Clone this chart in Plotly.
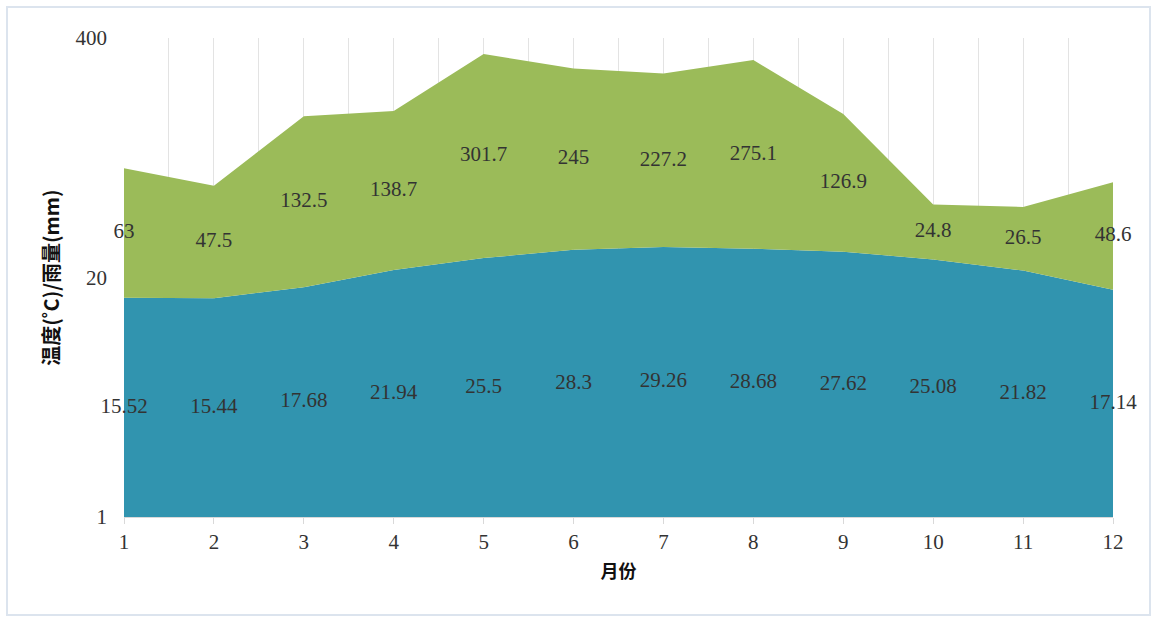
import numpy as np
import plotly.graph_objects as go

months = [1, 2, 3, 4, 5, 6, 7, 8, 9, 10, 11, 12]
temperature = [15.52, 15.44, 17.68, 21.94, 25.5, 28.3, 29.26, 28.68, 27.62, 25.08, 21.82, 17.14]
rainfall = [63, 47.5, 132.5, 138.7, 301.7, 245, 227.2, 275.1, 126.9, 24.8, 26.5, 48.6]
y_ticks = [1, 20, 400]

temp = np.array(temperature)
rain = np.array(rainfall)
total = temp + rain
base = np.ones_like(temp)

TEAL = "#3194AF"
GREEN = "#9BBB59"
SERIF = "Liberation Serif, DejaVu Serif, serif"
CJK = "Noto Sans CJK SC, sans-serif"

fig = go.Figure()
fig.add_trace(go.Scatter(x=months, y=base, mode="lines", line=dict(width=0),
                         showlegend=False, hoverinfo="skip"))
fig.add_trace(go.Scatter(x=months, y=temp, mode="lines", line=dict(width=0, color=TEAL),
                         fill="tonexty", fillcolor=TEAL, name="温度", showlegend=False))
fig.add_trace(go.Scatter(x=months, y=total, mode="lines", line=dict(width=0, color=GREEN),
                         fill="tonexty", fillcolor=GREEN, name="雨量", showlegend=False))

# labels at vertical centre of each band (log scale)
fig.add_trace(go.Scatter(x=months, y=np.sqrt(base * temp), mode="text",
                         text=[f"{v:g}" for v in temperature], cliponaxis=False,
                         textfont=dict(family=SERIF, size=21, color="#333333"),
                         showlegend=False, hoverinfo="skip"))
fig.add_trace(go.Scatter(x=months, y=np.sqrt(temp * total), mode="text",
                         text=[f"{v:g}" for v in rainfall], cliponaxis=False,
                         textfont=dict(family=SERIF, size=21, color="#333333"),
                         showlegend=False, hoverinfo="skip"))

fig.update_layout(
    width=1154, height=619,
    margin=dict(l=124, r=41, t=38, b=102),
    paper_bgcolor="white", plot_bgcolor="white",
    showlegend=False,
    xaxis=dict(
        range=[1, 12], tickvals=months, ticktext=[str(m) for m in months],
        showgrid=True, gridcolor="#E3E3E3", gridwidth=1,
        minor=dict(dtick=0.5, tick0=1, showgrid=True, gridcolor="#E3E3E3", gridwidth=1),
        showline=True, linecolor="#D9D9D9", linewidth=1,
        ticks="outside", ticklen=6, tickcolor="#D9D9D9",
        tickfont=dict(family=SERIF, size=21, color="#333333"),
        title=dict(text="<b>月份</b>", font=dict(family=CJK, size=18, color="#111111"), standoff=12),
        zeroline=False,
    ),
    yaxis=dict(
        type="log", range=[0, np.log10(400)], tickvals=y_ticks,
        ticktext=[str(t) for t in y_ticks],
        showgrid=False, showline=False, zeroline=False,
        ticks="", ticklabelstandoff=16,
        tickfont=dict(family=SERIF, size=21, color="#333333"),
        title=dict(text="<b>温度(˚C)/雨量(mm)</b>", font=dict(family=CJK, size=20, color="#111111"), standoff=10),
    ),
    shapes=[dict(type="rect", xref="paper", yref="paper",
                 x0=-0.1183, x1=1.0374, y0=-0.2046, y1=1.0647,
                 line=dict(color="#DCE4EE", width=2), fillcolor="rgba(0,0,0,0)", layer="below")],
)

fig.write_html("out.html")
